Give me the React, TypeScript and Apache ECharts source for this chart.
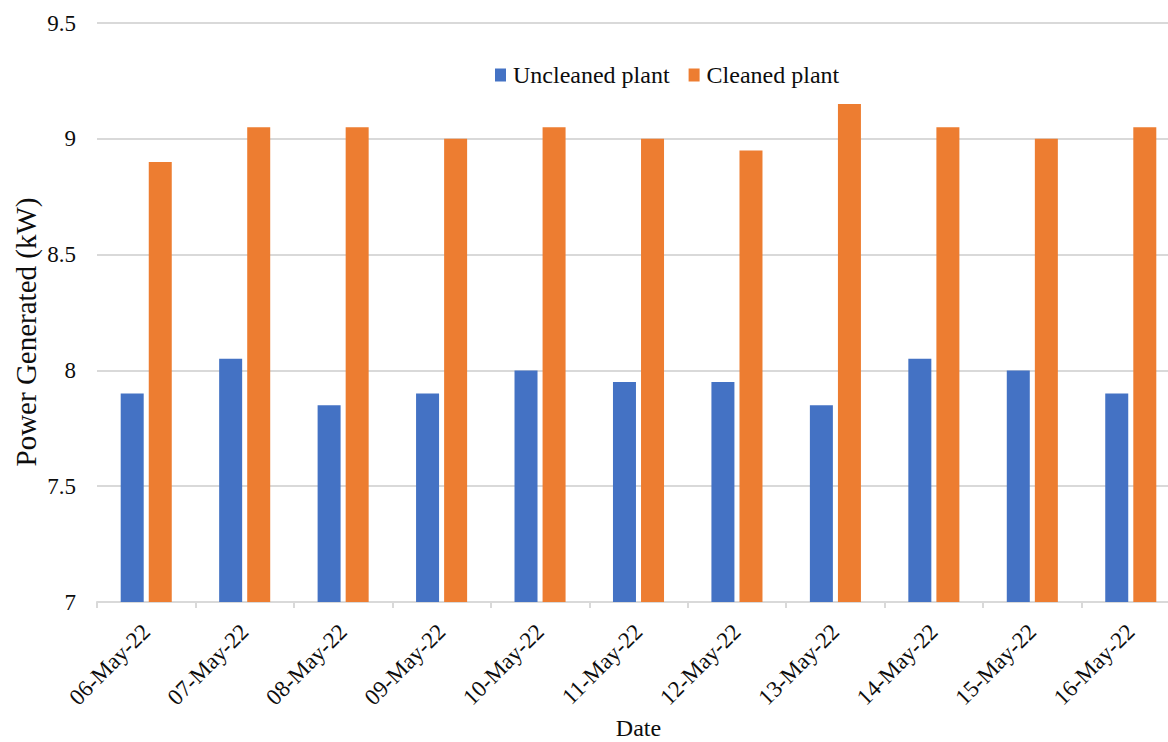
import React, { useEffect, useRef } from "react";
import * as echarts from "echarts";

const categories = [
  "06-May-22", "07-May-22", "08-May-22", "09-May-22", "10-May-22", "11-May-22",
  "12-May-22", "13-May-22", "14-May-22", "15-May-22", "16-May-22",
];
const uncleaned = [7.9, 8.05, 7.85, 7.9, 8.0, 7.95, 7.95, 7.85, 8.05, 8.0, 7.9];
const cleaned = [8.9, 9.05, 9.05, 9.0, 9.05, 9.0, 8.95, 9.15, 9.05, 9.0, 9.05];
const yTitle = "Power Generated (kW)";
const xTitle = "Date";

const FONT = "'Liberation Serif', 'Times New Roman', serif";
const TXT = "#0d0d0d";

export default function App() {
  const ref = useRef<HTMLDivElement>(null);
  useEffect(() => {
    if (!ref.current) return;
    const chart = echarts.init(ref.current, null, { renderer: "svg" });
    chart.setOption({
      animation: false,
      textStyle: { fontFamily: FONT, color: TXT },
      legend: {
        top: 63,
        left: 495,
        padding: 0,
        itemWidth: 11,
        itemHeight: 13,
        itemGap: 19,
        icon: "rect",
        textStyle: { fontFamily: FONT, fontSize: 24, color: TXT, padding: [0, 0, 0, 2] },
        data: ["Uncleaned plant", "Cleaned plant"],
      },
      graphic: [
        {
          type: "text",
          x: 26,
          y: 332,
          rotation: Math.PI / 2,
          style: {
            text: yTitle,
            fontFamily: FONT,
            fontSize: 29,
            fill: TXT,
            align: "center",
            verticalAlign: "middle",
          },
        },
      ],
      grid: {
        left: 97,
        top: 23,
        width: 1083,
        height: 579,
        containLabel: false,
        outerBoundsMode: "none",
      },
      xAxis: {
        type: "category",
        data: categories,
        name: xTitle,
        nameLocation: "middle",
        nameGap: 114,
        nameTextStyle: { fontFamily: FONT, fontSize: 24, color: TXT },
        axisLine: { lineStyle: { color: "#d9d9d9", width: 2 } },
        axisTick: { show: true, length: 6, lineStyle: { color: "#d9d9d9", width: 2 } },
        axisLabel: {
          rotate: 45,
          fontFamily: FONT,
          fontSize: 23,
          color: TXT,
          margin: 26,
          interval: 0,
        },
      },
      yAxis: {
        type: "value",
        min: 7,
        max: 9.5,
        interval: 0.5,
        axisLine: { show: false },
        axisTick: { show: false },
        splitLine: { lineStyle: { color: "#d9d9d9", width: 2 } },
        axisLabel: {
          fontFamily: FONT,
          fontSize: 23,
          color: TXT,
          margin: 21,
          formatter: (v: number) => String(v),
        },
      },
      series: [
        {
          name: "Uncleaned plant",
          type: "bar",
          data: uncleaned,
          barWidth: 23,
          barGap: "22%",
          itemStyle: { color: "#4472c4" },
        },
        {
          name: "Cleaned plant",
          type: "bar",
          data: cleaned,
          barWidth: 23,
          barGap: "22%",
          itemStyle: { color: "#ed7d31" },
        },
      ],
    });
    return () => chart.dispose();
  }, []);
  return (
    <div
      ref={ref}
      style={{ position: "fixed", left: 0, top: 0, width: 1168, height: 742, background: "#fff", overflow: "hidden" }}
    />
  );
}
